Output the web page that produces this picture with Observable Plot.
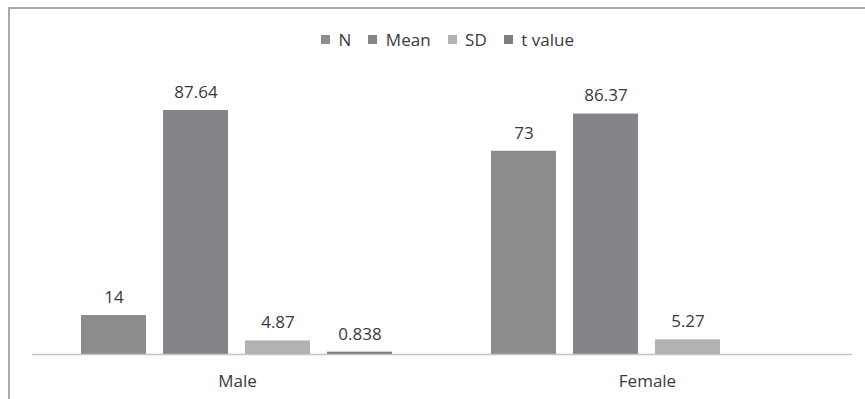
<!DOCTYPE html>
<html>
<head>
<meta charset="utf-8">
<script src="https://cdn.jsdelivr.net/npm/d3@7"></script>
<script src="https://cdn.jsdelivr.net/npm/@observablehq/plot@0.6"></script>
<style>
  html, body { margin: 0; padding: 0; background: #fff; }
  #wrap { position: relative; width: 865px; height: 399px; overflow: hidden; font-family: "Open Sans", sans-serif; }
  #frame { position: absolute; left: 8px; top: 7px; right: -10px; bottom: -10px;
           border-top: 2px solid #a9a9a9; border-left: 2px solid #a9a9a9; }
  #legend { position: absolute; left: 36px; width: 840px; top: 23px; display: flex; justify-content: center; }
  #chart { position: absolute; left: 0; top: 60px; }
</style>
</head>
<body>
<div id="wrap">
  <div id="frame"></div>
  <div id="legend"></div>
  <div id="chart"></div>
</div>
<script>
// Groups along the axis and the four statistics shown for each
const categories = ["Male", "Female"];
const series = ["N", "Mean", "SD", "t value"];
const maleValues = [14, 87.64, 4.87, 0.838];
const femaleValues = [73, 86.37, 5.27, null];
const seriesColors = ["#8c8c8c", "#838588", "#b2b2b2", "#7e7e7e"];

const valuesByCategory = [maleValues, femaleValues];
const rows = [];
categories.forEach((cat, i) => {
  series.forEach((s, j) => {
    const v = valuesByCategory[i][j];
    if (v != null) rows.push({category: cat, series: s, value: v});
  });
});

const colorScale = {domain: series, range: seriesColors};

const legend = Plot.legend({
  color: colorScale,
  legend: "swatches",
  swatchSize: 9,
  style: {fontSize: "17px", fontFamily: "Open Sans, sans-serif", color: "#3a3a3a"}
});
document.getElementById("legend").append(legend);

const chart = Plot.plot({
  width: 865,
  height: 339,
  marginLeft: 32,
  marginRight: 13,
  marginTop: 15.6,
  marginBottom: 45,
  style: {fontSize: "17px", fontFamily: "Open Sans, sans-serif", color: "#3a3a3a", background: "transparent"},
  fx: {domain: categories, padding: 0, tickSize: 0, tickPadding: 20, label: null},
  x: {domain: series, paddingInner: 0.207, paddingOuter: 0.6035, axis: null},
  y: {domain: [0, 100], axis: null},
  color: colorScale,
  marks: [
    Plot.barY(rows, {fx: "category", x: "series", y: "value", fill: "series"}),
    Plot.ruleY([0], {stroke: "#c4c4c4", strokeWidth: 1.5}),
    Plot.text(rows, {fx: "category", x: "series", y: "value", text: d => String(d.value),
                     dy: -18, fill: "#3a3a3a", fontSize: 17})
  ]
});
document.getElementById("chart").append(chart);
</script>
</body>
</html>
